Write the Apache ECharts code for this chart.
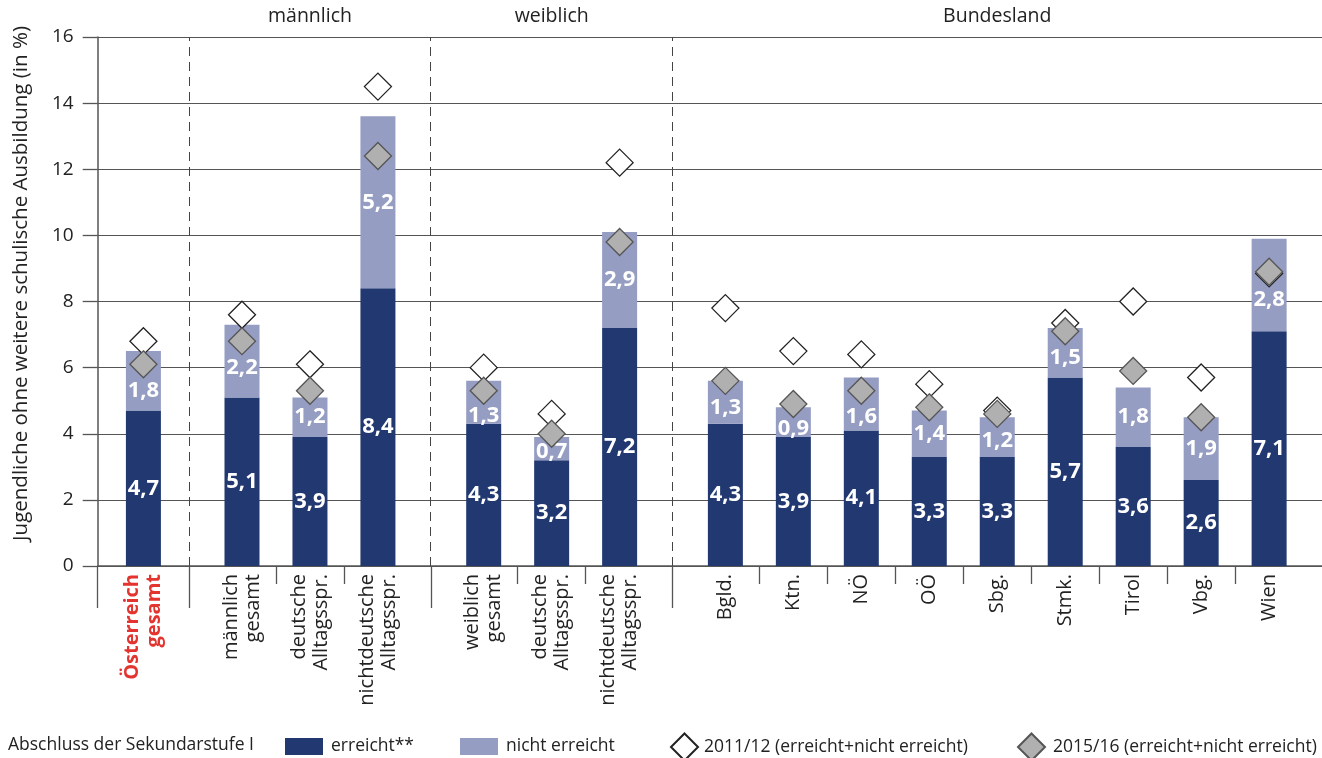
<!DOCTYPE html>
<html>
<head>
<meta charset="utf-8">
<script src="https://cdn.jsdelivr.net/npm/echarts@6/dist/echarts.min.js"></script>
<style>html,body{margin:0;padding:0;background:#fff}#c{width:1322px;height:758px}</style>
</head>
<body>
<div id="c"></div>
<script>
// ---- data ----
const categories = ['Österreich\ngesamt', 'männlich\ngesamt', 'deutsche\nAlltagsspr.', 'nichtdeutsche\nAlltagsspr.',
  'weiblich\ngesamt', 'deutsche\nAlltagsspr.', 'nichtdeutsche\nAlltagsspr.',
  'Bgld.', 'Ktn.', 'NÖ', 'OÖ', 'Sbg.', 'Stmk.', 'Tirol', 'Vbg.', 'Wien'];
const groupSizes = [1, 3, 3, 9];
const groupNames = ['', 'männlich', 'weiblich', 'Bundesland'];
const erreicht = [4.7, 5.1, 3.9, 8.4, 4.3, 3.2, 7.2, 4.3, 3.9, 4.1, 3.3, 3.3, 5.7, 3.6, 2.6, 7.1];
const nichtErreicht = [1.8, 2.2, 1.2, 5.2, 1.3, 0.7, 2.9, 1.3, 0.9, 1.6, 1.4, 1.2, 1.5, 1.8, 1.9, 2.8];
const total2011 = [6.8, 7.6, 6.1, 14.5, 6.0, 4.6, 12.2, 7.8, 6.5, 6.4, 5.5, 4.7, 7.35, 8.0, 5.7, 8.85];
const total2015 = [6.1, 6.8, 5.3, 12.4, 5.3, 4.0, 9.8, 5.6, 4.9, 5.3, 4.8, 4.6, 7.1, 5.9, 4.5, 8.9];
const yTicks = [0, 2, 4, 6, 8, 10, 12, 14, 16];
const legendNames = ['erreicht**', 'nicht erreicht', '2011/12 (erreicht+nicht erreicht)', '2015/16 (erreicht+nicht erreicht)'];
const legendTitle = 'Abschluss der Sekundarstufe I';
const yTitle = 'Jugendliche ohne weitere schulische Ausbildung (in %)';

// ---- layout (slot units) ----
const firstSlot = 1.345, gap = 0.278;
const centers = [], shortTicks = [], seps = [0], groupCenters = [];
let pos = 0;
groupSizes.forEach((n, g) => {
  if (g === 0) {
    centers.push(firstSlot / 2);
    pos = firstSlot;
    seps.push(pos);
    groupCenters.push(firstSlot / 2);
    return;
  }
  const start = pos;
  pos += gap;
  for (let i = 0; i < n; i++) {
    centers.push(pos + 0.5);
    if (i > 0) shortTicks.push(pos);
    pos += 1;
  }
  pos += gap;
  groupCenters.push((start + pos) / 2);
  if (g < groupSizes.length - 1) seps.push(pos);
});
const xMax = pos;

function nearest(arr, v) {
  let bi = 0, bd = Infinity;
  arr.forEach((a, i) => { const d = Math.abs(a - v); if (d < bd) { bd = d; bi = i; } });
  return bi;
}
const fmt = v => String(v).replace('.', ',');

const FONT = 'Open Sans';
const TXT = '#222';
const DARK = '#213870', LIGHT = '#959dc2';
const XLAB = 20;

const barLabel = {
  show: true, position: 'inside', color: '#fff', fontFamily: FONT, fontSize: 22, fontWeight: 'bold'
};
const legendText = { fontFamily: FONT, fontSize: 17.5, color: TXT };

const chart = echarts.init(document.getElementById('c'));

function buildOption(pxPerUnit) {
  // light-segment labels are pushed below the 2015/16 marker when they would collide with it
  const lightData = centers.map((c, i) => {
    const lo = erreicht[i], hi = erreicht[i] + nichtErreicht[i];
    const mid = (lo + hi) / 2;
    const minDiamond = Math.min(total2011[i], total2015[i]);
    let target = Math.min(mid, minDiamond - 0.8);
    target = Math.max(target, lo + 0.25);
    return { value: [nichtErreicht[i], c], label: { offset: [0, (mid - target) * pxPerUnit] } };
  });
  return {
    animation: false,
    textStyle: { fontFamily: FONT },
    grid: { left: 97.7, right: 0, top: 37, bottom: 192 },
    title: {
      text: legendTitle, left: 8, top: 736, padding: 0,
      textStyle: { fontFamily: FONT, fontSize: 17.5, fontWeight: 'normal', color: TXT }
    },
    legend: [
      { data: [legendNames[0]], left: 285, top: 737.5, padding: 0, itemWidth: 38, itemHeight: 17, icon: 'rect',
        textStyle: Object.assign({ padding: [0, 0, 0, 3] }, legendText) },
      { data: [legendNames[1]], left: 460, top: 737.5, padding: 0, itemWidth: 38, itemHeight: 17, icon: 'rect',
        textStyle: Object.assign({ padding: [0, 0, 0, 3] }, legendText) },
      { data: [legendNames[2]], left: 670, top: 732.5, padding: 0, itemWidth: 27, itemHeight: 27,
        textStyle: Object.assign({ padding: [0, 0, 0, 1] }, legendText) },
      { data: [legendNames[3]], left: 1017, top: 732.5, padding: 0, itemWidth: 27, itemHeight: 27,
        textStyle: Object.assign({ padding: [0, 0, 0, 3] }, legendText) }
    ],
    xAxis: [
      {
        type: 'value', position: 'bottom', min: 0, max: xMax,
        axisLine: { show: true, lineStyle: { color: '#555', width: 1.5 } },
        axisTick: { show: true, customValues: shortTicks, length: 18, lineStyle: { color: '#555', width: 1.3 } },
        axisLabel: {
          show: true, customValues: centers.slice(1), rotate: 90, margin: 8,
          fontFamily: FONT, fontSize: XLAB, color: TXT, lineHeight: 22,
          formatter: v => categories[nearest(centers, v)]
        },
        splitLine: { show: false }
      },
      {
        type: 'value', position: 'bottom', min: 0, max: xMax,
        axisLine: { show: false },
        axisTick: { show: true, customValues: seps, length: 42, lineStyle: { color: '#555', width: 1.3 } },
        axisLabel: { show: false },
        splitLine: { show: false }
      },
      {
        type: 'value', position: 'top', min: 0, max: xMax,
        axisLine: { show: false }, axisTick: { show: false },
        axisLabel: {
          show: true, customValues: groupCenters.slice(1), margin: 11,
          fontFamily: FONT, fontSize: 19.5, color: TXT,
          formatter: v => groupNames[nearest(groupCenters, v)]
        },
        splitLine: { show: false }
      },
      {
        type: 'value', position: 'bottom', min: 0, max: xMax,
        axisLine: { show: false }, axisTick: { show: false },
        axisLabel: {
          show: true, customValues: [centers[0]], rotate: 90, margin: 8,
          fontFamily: FONT, fontSize: XLAB, fontWeight: 'bold', color: '#e3342f', lineHeight: 22,
          formatter: v => categories[nearest(centers, v)]
        },
        splitLine: { show: false }
      }
    ],
    yAxis: {
      type: 'value', min: 0, max: 16, interval: 2,
      name: yTitle, nameLocation: 'middle', nameGap: 66,
      nameTextStyle: { fontFamily: FONT, fontSize: 20.5, color: TXT, padding: [0, 0, 0, 36] },
      axisLine: { show: true, lineStyle: { color: '#555', width: 1.5 } },
      axisTick: { show: true, inside: false, length: 15, lineStyle: { color: '#555', width: 1.3 } },
      axisLabel: { margin: 24, fontFamily: FONT, fontSize: 19, color: TXT, formatter: v => yTicks.includes(v) ? String(v) : '' },
      splitLine: { show: true, lineStyle: { color: '#555', width: 1.2 } }
    },
    series: [
      {
        name: legendNames[0], type: 'bar', stack: 's', xAxisIndex: 0, barWidth: 35,
        encode: { x: 1, y: 0 },
        data: centers.map((c, i) => [erreicht[i], c]),
        itemStyle: { color: DARK },
        label: Object.assign({}, barLabel, { formatter: p => fmt(p.value[0]) })
      },
      {
        name: legendNames[1], type: 'bar', stack: 's', xAxisIndex: 0, barWidth: 35,
        encode: { x: 1, y: 0 },
        data: lightData,
        itemStyle: { color: LIGHT },
        label: Object.assign({}, barLabel, { formatter: p => fmt(p.value[0]) })
      },
      {
        name: legendNames[2], type: 'scatter', xAxisIndex: 0, symbol: 'diamond', symbolSize: 27, z: 5,
        data: centers.map((c, i) => [c, total2011[i]]),
        itemStyle: { color: '#fff', borderColor: '#222', borderWidth: 1.3, opacity: 1 }
      },
      {
        name: legendNames[3], type: 'scatter', xAxisIndex: 0, symbol: 'diamond', symbolSize: 27, z: 6,
        data: centers.map((c, i) => [c, total2015[i]]),
        itemStyle: { color: '#b0b0b0', borderColor: '#555', borderWidth: 1.3, opacity: 1 }
      },
      {
        type: 'scatter', xAxisIndex: 1, data: [], silent: true,
        markLine: {
          silent: true, symbol: ['none', 'none'], label: { show: false },
          lineStyle: { color: '#444', width: 1, type: [9, 6] },
          data: seps.slice(1).map(s => ({ xAxis: s }))
        }
      }
    ]
  };
}

chart.setOption(buildOption(0));
const pxPerUnit = chart.convertToPixel({ yAxisIndex: 0 }, 0) - chart.convertToPixel({ yAxisIndex: 0 }, 1);
chart.setOption(buildOption(pxPerUnit));
</script>
</body>
</html>
